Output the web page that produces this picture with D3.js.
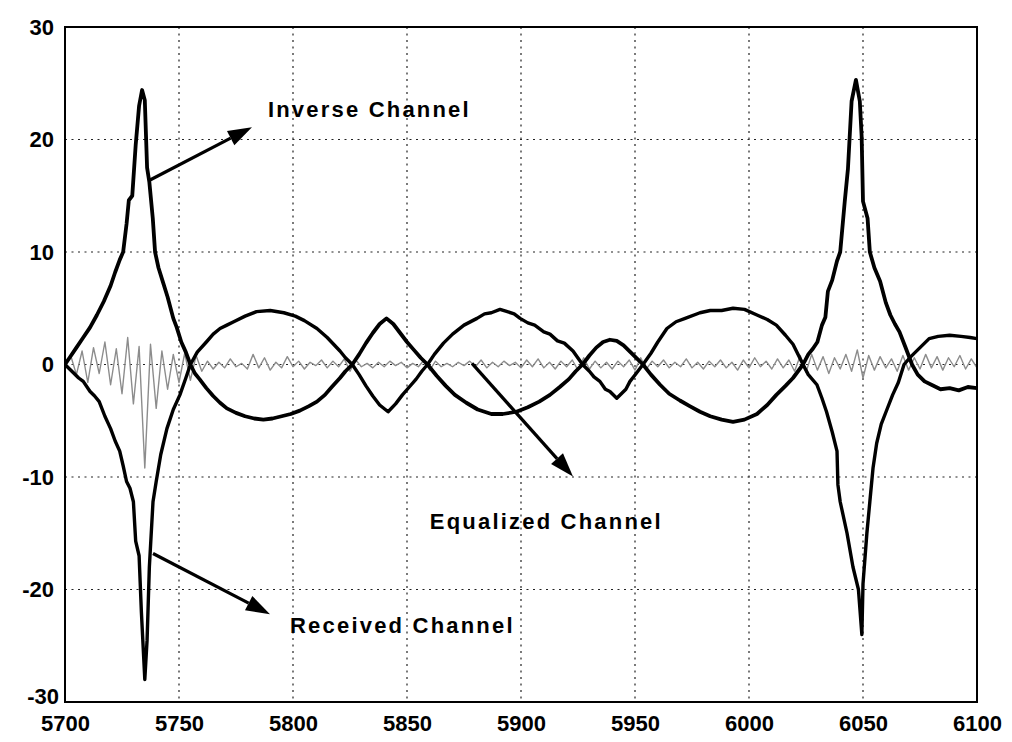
<!DOCTYPE html>
<html>
<head>
<meta charset="utf-8">
<script src="https://cdn.jsdelivr.net/npm/d3@7"></script>
<style>
  html, body { margin: 0; padding: 0; background: #fff; }
  svg { display: block; }
  text { font-family: Arial, "Liberation Sans", sans-serif; font-weight: bold; fill: #000; }
</style>
</head>
<body>
<svg id="chart" width="1012" height="742"></svg>
<script>
// ---------- data ----------
const xTicks = [5700, 5750, 5800, 5850, 5900, 5950, 6000, 6050, 6100];
const yTicks = [-30, -20, -10, 0, 10, 20, 30];

// Inverse Channel [x, y]
const inverseChannel = [
  [5700,0],[5702,0.6],[5705,1.5],[5708,2.4],[5711,3.3],[5714,4.4],[5717,5.6],[5720,7.0],
  [5722,8.2],[5724,9.3],[5725.5,10.0],[5727,12.5],[5728,14.6],[5729.5,15.0],[5731,19.5],
  [5732.5,23.0],[5733.8,24.4],[5735,23.5],[5736,17.5],[5737,16.2],[5738.5,13.0],[5739.5,10.0],
  [5741,8.6],[5743,7.3],[5745,6.0],[5747.5,4.1],[5749,3.3],[5751,2.0],[5753,1.1],[5755,0],
  [5757,-0.8],[5759,-1.3],[5762,-2.1],[5765,-2.8],[5768,-3.4],[5771,-3.9],[5775,-4.3],
  [5779,-4.6],[5783,-4.8],[5787,-4.9],[5791,-4.8],[5795,-4.6],[5799,-4.4],[5803,-4.1],
  [5807,-3.7],[5810.5,-3.3],[5814,-2.7],[5817,-2.0],[5820.6,-1.2],[5823,-0.6],[5826,0],
  [5829,0.9],[5832,1.9],[5835,2.8],[5838,3.6],[5841,4.1],[5844,3.6],[5847,2.8],[5850,2.0],
  [5853,1.3],[5856,0.6],[5859,0],[5863,-1.0],[5867,-1.9],[5871,-2.7],[5876,-3.4],[5881,-4.0],
  [5887,-4.4],[5892,-4.4],[5898,-4.2],[5903,-3.8],[5908,-3.3],[5912.7,-2.7],[5917,-2.0],
  [5921,-1.3],[5924,-0.6],[5927,0],[5930,0.8],[5933,1.5],[5936,2.0],[5939,2.2],[5942,2.1],
  [5945,1.7],[5948,1.1],[5951,0.5],[5953.5,0],[5957,-0.9],[5961,-1.8],[5965,-2.6],
  [5969.7,-3.2],[5974,-3.7],[5978.5,-4.2],[5983,-4.6],[5988,-4.9],[5993,-5.1],[5998,-4.9],
  [6003.5,-4.4],[6008,-3.6],[6012,-2.7],[6016,-1.9],[6019.3,-1.2],[6021.5,-0.6],[6023.7,0],
  [6026,0.9],[6028,1.4],[6030,2.0],[6032,3.5],[6033.5,4.2],[6034.6,6.5],[6036.5,7.5],
  [6038.6,9.2],[6040,10.0],[6042,14.5],[6043.4,17.4],[6045,23.4],[6046.9,25.3],[6048.6,23.4],
  [6049.4,20.3],[6050,14.5],[6052,13.0],[6053,10.0],[6055,8.6],[6057.5,7.4],[6060,5.5],
  [6062,4.4],[6064,3.6],[6066,2.9],[6068.5,1.6],[6071.5,0],[6074,-0.9],[6077,-1.5],
  [6080,-1.8],[6084,-2.2],[6088,-2.1],[6092,-2.3],[6096,-2.0],[6100,-2.1]
];

// Received Channel [x, y]
const receivedChannel = [
  [5700,0],[5703,-0.6],[5706,-1.2],[5708,-1.5],[5711,-2.4],[5713,-2.8],[5715,-3.3],
  [5717.5,-4.6],[5720,-5.7],[5722,-6.8],[5724,-7.7],[5725.5,-9.0],[5727,-10.4],[5728.5,-11.0],
  [5730,-12.2],[5731,-15.7],[5732.5,-17.0],[5733.5,-22.0],[5735,-28.0],[5736,-24.5],
  [5737,-18.0],[5738.6,-12.2],[5740,-10.4],[5742,-8.0],[5744.7,-5.7],[5747.5,-4.0],
  [5750.4,-2.7],[5753,-1.2],[5755,0],[5758,1.1],[5762,2.0],[5765,2.7],[5768,3.2],[5771,3.5],
  [5774,3.8],[5779,4.3],[5784,4.7],[5790,4.8],[5796,4.6],[5801,4.3],[5805,3.9],[5810.5,3.2],
  [5815,2.4],[5820.6,1.2],[5823,0.6],[5826,0],[5829,-0.9],[5832,-1.9],[5835,-2.8],[5838,-3.6],
  [5841.7,-4.2],[5845,-3.5],[5848,-2.7],[5851,-2.0],[5854,-1.3],[5856.5,-0.6],[5859,0],
  [5862,0.9],[5866,1.9],[5870,2.7],[5875,3.5],[5880.7,4.1],[5884,4.5],[5887,4.6],[5890.8,4.9],
  [5894,4.7],[5897,4.5],[5899.6,4.1],[5903,3.7],[5906,3.5],[5910,2.9],[5912.7,2.7],[5916,2.1],
  [5919,1.9],[5922.8,1.2],[5927,0],[5930,-0.6],[5932,-1.1],[5934.6,-1.5],[5937,-2.2],
  [5939,-2.4],[5942,-3.0],[5944,-2.6],[5946,-2.2],[5947.8,-1.5],[5950.5,-0.8],[5953.5,0],
  [5957,1.0],[5960,2.0],[5964,3.2],[5968,3.8],[5972,4.1],[5978.5,4.6],[5983,4.8],[5988,4.8],
  [5993,5.0],[5998,4.9],[6003.5,4.4],[6008,4.0],[6012,3.5],[6016,2.6],[6019.3,1.8],[6023.7,0],
  [6026,-0.9],[6029.8,-1.8],[6032,-3.0],[6034,-4.2],[6036.5,-6.0],[6038.6,-7.7],[6039,-10.7],
  [6040,-12.2],[6043,-15.0],[6045.6,-18.0],[6048,-20.0],[6049.5,-24.0],[6050,-19.5],
  [6051.7,-15.0],[6053,-12.2],[6054.4,-9.2],[6056,-7.0],[6058,-5.3],[6060.5,-4.0],[6063,-2.7],
  [6065.5,-1.6],[6068,0],[6071,0.7],[6074,1.3],[6077,1.9],[6079,2.3],[6083,2.5],[6088,2.6],
  [6093,2.5],[6097,2.4],[6100,2.3]
];

// Equalized Channel: samples every 2.5 from 5700 to 6100
const equalizedStart = 5700, equalizedStep = 2.5;
const equalizedChannel = [
  0.0, 0.8, -0.9, 1.2, -1.6, 1.5, -0.8, 2.0,
  -1.8, 1.4, -2.6, 2.4, -3.5, 1.6, -9.2, 1.8,
  -3.9, 1.2, -2.2, 0.9, -1.6, 1.0, -1.4, 0.8,
  -0.6, 0.3, -0.4, 0.2, -0.3, 0.5, -0.2, 0.1,
  -0.4, 0.9, -0.3, 0.6, -0.5, 0.2, -0.3, 0.7,
  -0.2, 0.3, -0.4, 0.2, -0.1, 0.4, -0.3, 0.3,
  -0.2, 0.5, -0.6, 0.4, -0.2, 0.1, -0.3, 0.2,
  -0.2, 0.3, -0.1, 0.2, -0.3, 0.1, -0.2, 0.4,
  -0.5, 0.3, -0.2, 0.1, -0.2, 0.2, -0.1, 0.3,
  -0.2, 0.4, -0.3, 0.2, -0.2, 0.3, -0.1, 0.2,
  -0.3, 0.4, -0.2, 0.5, -0.3, 0.2, -0.4, 0.3,
  -0.2, 0.4, -0.5, 0.6, -0.4, 0.3, -0.3, 0.2,
  -0.4, 0.3, -0.2, 0.4, -0.5, 0.6, -0.4, 0.3,
  -0.2, 0.4, -0.3, 0.2, -0.2, 0.5, -0.3, 0.2,
  -0.4, 0.3, -0.2, 0.4, -0.3, 0.2, -0.5, 0.4,
  -0.3, 0.6, -0.2, 0.3, -0.4, 0.5, -0.3, 0.4,
  -0.6, 0.8, -0.7, 0.9, -0.5, 0.7, -0.8, 0.6,
  -0.4, 0.9, -0.6, 1.3, -1.2, 0.8, -0.5, 0.7,
  -0.3, 0.5, -0.6, 0.8, -0.5, 0.6, -0.4, 0.9,
  -0.3, 0.7, -0.5, 0.6, -0.2, 0.8, -0.4, 0.5,
  -0.3
];

// Annotations (data units): label, label anchor, arrow start, arrow tip
const annotationLabels = ["Inverse Channel", "Equalized Channel", "Received Channel"];
const annotationTextPos = [[5789, 22.0], [5860, -14.6], [5798.7, -23.9]];
const annotationFrom = [[5737.3, 16.4], [5878.5, 0.1], [5738.6, -16.8]];
const annotationTo = [[5782, 21.1], [5922.8, -9.96], [5789.9, -22.2]];

// ---------- chart ----------
const svg = d3.select("#chart");
const pL = 65, pR = 977, pT = 27, pB = 702;
const fontFam = "Arial, 'Liberation Sans', sans-serif";

const x = d3.scaleLinear().domain([5700, 6100]).range([pL, pR]);
const y = d3.scaleLinear().domain([-30, 30]).range([pB, pT]);

svg.append("rect").attr("width", 1012).attr("height", 742).attr("fill", "#fff");

svg.append("defs").append("clipPath").attr("id", "plotclip")
  .append("rect").attr("x", pL).attr("y", pT).attr("width", pR - pL).attr("height", pB - pT);

// grid
const grid = svg.append("g").attr("stroke", "#222").attr("stroke-width", 1.2).attr("stroke-dasharray", "2,4.5");
grid.selectAll("line.gx").data(xTicks.slice(1, -1)).join("line").attr("class", "gx")
  .attr("x1", d => x(d)).attr("x2", d => x(d)).attr("y1", pT).attr("y2", pB);
grid.selectAll("line.gy").data(yTicks.slice(1, -1)).join("line").attr("class", "gy")
  .attr("y1", d => y(d)).attr("y2", d => y(d)).attr("x1", pL).attr("x2", pR);

const plot = svg.append("g").attr("clip-path", "url(#plotclip)");
const line = d3.line().x(d => x(d[0])).y(d => y(d[1]));

// equalized (gray)
const eqPts = equalizedChannel.map((v, i) => [equalizedStart + i * equalizedStep, v]);
plot.append("path").datum(eqPts).attr("d", line)
  .attr("fill", "none").attr("stroke", "#8c8c8c").attr("stroke-width", 1.4).attr("stroke-linejoin", "round");

plot.append("path").datum(receivedChannel).attr("d", line)
  .attr("fill", "none").attr("stroke", "#000").attr("stroke-width", 3.4).attr("stroke-linejoin", "round");
plot.append("path").datum(inverseChannel).attr("d", line)
  .attr("fill", "none").attr("stroke", "#000").attr("stroke-width", 3.8).attr("stroke-linejoin", "round");

// axes box
svg.append("rect").attr("x", pL).attr("y", pT).attr("width", pR - pL).attr("height", pB - pT)
  .attr("fill", "none").attr("stroke", "#000").attr("stroke-width", 2);

// axes via d3
const xAxis = d3.axisBottom(x).tickValues(xTicks).tickSize(0).tickPadding(13).tickFormat(d => String(d));
const gx = svg.append("g").attr("transform", `translate(0,${pB})`).call(xAxis);
gx.select(".domain").remove();
gx.selectAll("text").style("font-size", "22px").style("font-weight", "bold")
  .style("font-family", fontFam).attr("fill", "#000");

const yAxis = d3.axisLeft(y).tickValues(yTicks).tickSize(0).tickPadding(11).tickFormat(d => String(d));
const gy = svg.append("g").attr("transform", `translate(${pL},0)`).call(yAxis);
gy.select(".domain").remove();
gy.selectAll("text").style("font-size", "22px").style("font-weight", "bold")
  .style("font-family", fontFam).attr("fill", "#000");
gy.selectAll(".tick").filter(d => d === -30).select("text").attr("dx", 5).attr("dy", "0.05em");

// annotations
const ann = svg.append("g");
annotationLabels.forEach((lab, i) => {
  ann.append("text").attr("x", x(annotationTextPos[i][0])).attr("y", y(annotationTextPos[i][1]))
    .style("font-size", "22px").style("letter-spacing", "2.2px").text(lab);
  const x0 = x(annotationFrom[i][0]), y0 = y(annotationFrom[i][1]);
  const x1 = x(annotationTo[i][0]), y1 = y(annotationTo[i][1]);
  const ang = Math.atan2(y1 - y0, x1 - x0);
  const hl = 24, hw = 8;
  const bx = x1 - hl * Math.cos(ang), by = y1 - hl * Math.sin(ang);
  ann.append("line").attr("x1", x0).attr("y1", y0).attr("x2", bx).attr("y2", by)
    .attr("stroke", "#000").attr("stroke-width", 3.2);
  const px = -Math.sin(ang), py = Math.cos(ang);
  ann.append("path")
    .attr("d", `M${x1},${y1}L${bx + px * hw},${by + py * hw}L${bx - px * hw},${by - py * hw}Z`)
    .attr("fill", "#000");
});
</script>
</body>
</html>
